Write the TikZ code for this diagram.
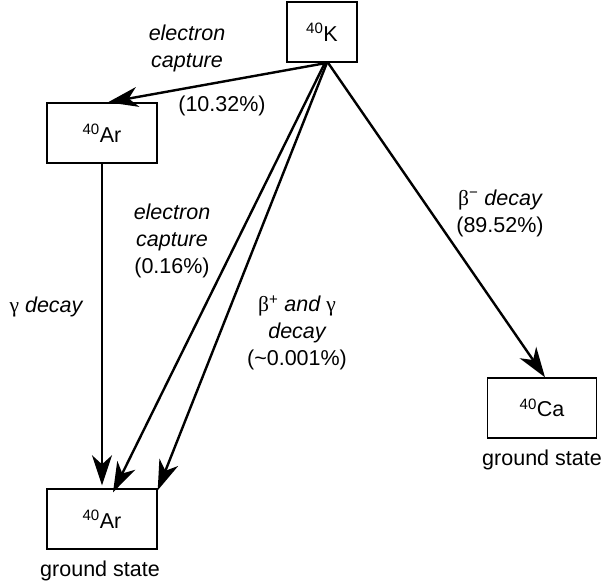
\documentclass[tikz,border=0pt]{standalone}
\usepackage{fontspec}
\setmainfont{Liberation Sans}
\newfontfamily\grk{Liberation Serif}
\usetikzlibrary{arrows.meta}
\tikzset{
  nuc/.style={draw,line width=1.4pt,minimum height=60pt,inner sep=0pt},
  lbl/.style={align=center,inner sep=0pt},
  arr/.style={line width=2.4pt,arrows={-Stealth[length=30pt,width=20pt,inset=9pt]}}}
\begin{document}
\begin{tikzpicture}[x=1pt,y=-1pt,
  every node/.style={font=\fontsize{21.5}{27}\selectfont}]
\useasboundingbox (0,0) rectangle (603,588);
\node[nuc,minimum width=70pt] (K) at (322,32) {\textsuperscript{40}K};
\node[nuc,minimum width=110pt] (Ar1) at (102,133) {\textsuperscript{40}Ar};
\node[nuc,minimum width=110pt] (Ar2) at (102,519) {\textsuperscript{40}Ar};
\node[nuc,minimum width=109pt] (Ca) at (542,408) {\textsuperscript{40}Ca};
\node[lbl] (gs1) at (100,571) {ground state};
\node[lbl] (gs2) at (542,460) {ground state};
\coordinate (k1) at ([xshift=6pt]K.south);
\coordinate (k2) at ([xshift=3pt]K.south);
\coordinate (k3) at ([xshift=5pt]K.south);
\coordinate (k4) at ([xshift=6pt]K.south);
\coordinate (a1) at ([xshift=6pt]Ar1.north);
\coordinate (a3) at ([xshift=11pt,yshift=-4pt]Ar2.north);
\coordinate (a4) at ([yshift=-2pt]Ar2.north east);
\coordinate (c1) at ([xshift=3pt]Ca.north);
\draw[arr] (k1) -- (a1);
\draw[arr,shorten >=3pt] (Ar1.south) -- (Ar2.north);
\draw[arr] (k2) -- (a3);
\draw[arr] (k3) -- (a4);
\draw[arr] (k4) -- (c1);
\node[lbl] (l1) at (187,48) {\itshape electron\\\itshape capture};
\node[lbl] (l2) at (222,106) {(10.32\%)};
\node[lbl] (l3) at (172,241) {\itshape electron\\\itshape capture\\(0.16\%)};
\node[lbl] (l4) at (46,307) {{\grk γ} \itshape decay};
\node[lbl] (l5) at (297,333) {{\grk β}\textsuperscript{+} \itshape and {\upshape\grk γ}\\\itshape decay\\(\textasciitilde0.001\%)};
\node[lbl] (l6) at (500,213) {{\grk β}\textsuperscript{\textminus} \itshape decay\\(89.52\%)};
\end{tikzpicture}
\end{document}
